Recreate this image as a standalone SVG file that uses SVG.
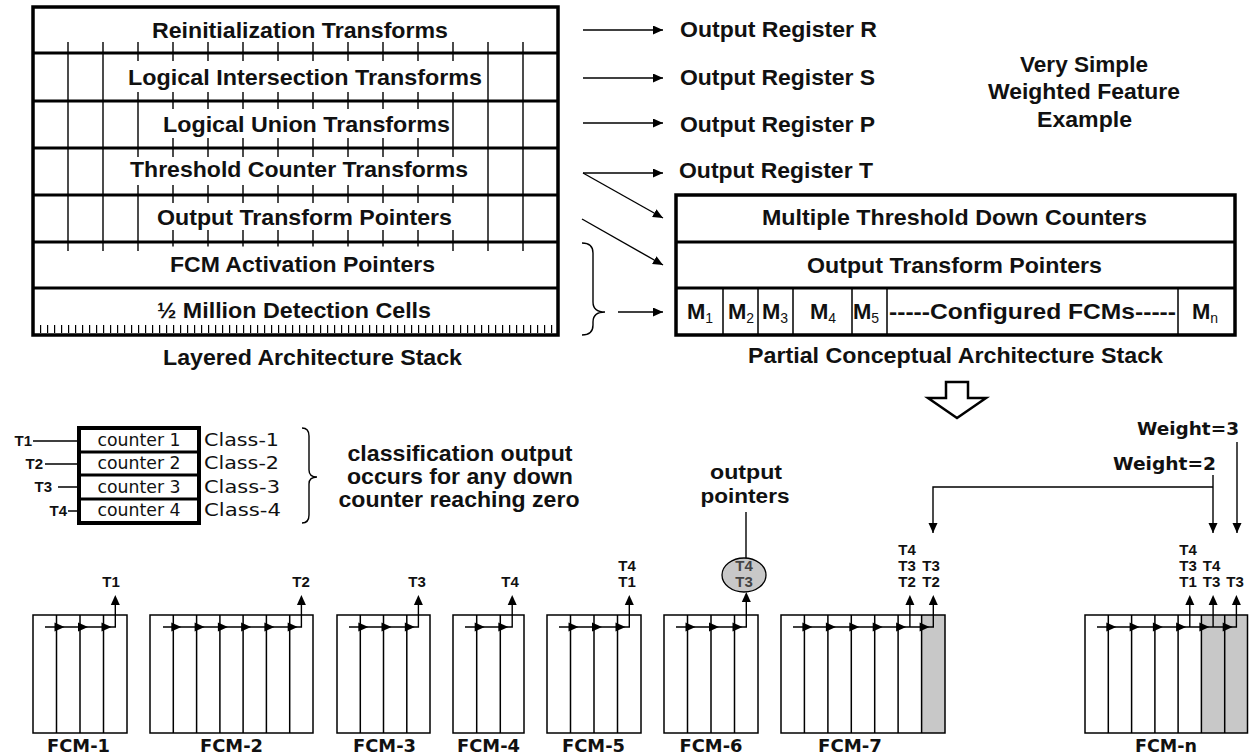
<svg xmlns="http://www.w3.org/2000/svg" xmlns:xlink="http://www.w3.org/1999/xlink" width="1249" height="755" viewBox="0 0 1249 755">
<style>
.b{font-family:"Liberation Sans",Arial,sans-serif;font-weight:bold;font-size:22px;fill:#111}
.bm{font-family:"Liberation Sans",Arial,sans-serif;font-weight:bold;font-size:22px;fill:#111;text-anchor:middle}
.sub{font-size:14px;font-weight:normal}
.t{font-family:"Liberation Sans",Arial,sans-serif;font-weight:bold;font-size:15px;fill:#111;text-anchor:middle}
.te{font-family:"Liberation Sans",Arial,sans-serif;font-weight:bold;font-size:15px;fill:#111;text-anchor:end}
.v{font-family:"DejaVu Sans",Verdana,sans-serif;font-size:17px;fill:#111}
.vm{font-family:"DejaVu Sans",Verdana,sans-serif;font-size:17px;fill:#111;text-anchor:middle}
.vb{font-family:"DejaVu Sans",Verdana,sans-serif;font-weight:bold;font-size:18px;fill:#111}
.vbm{font-family:"DejaVu Sans",Verdana,sans-serif;font-weight:bold;font-size:18px;fill:#111;text-anchor:middle}
.ln{stroke:#000;stroke-width:1.4;fill:none}
.sep{stroke:#000;stroke-width:3;fill:none}
.frame{stroke:#000;stroke-width:3.5;fill:none}
.cell{stroke:#000;stroke-width:1.5;fill:none}
.gray{fill:#c8c8c8}
.mask{fill:#fff}
.ah{fill:#000}
</style>
<defs>
<marker id="arr" markerUnits="userSpaceOnUse" markerWidth="12" markerHeight="10" refX="10" refY="4.5" orient="auto"><path d="M0,0 L10,4.5 L0,9 z" fill="#000"/></marker>
<path id="ahR" d="M-10,-4.5 L0,0 L-10,4.5 z"/>
<path id="ahU" d="M-4.5,10 L0,0 L4.5,10 z"/>
</defs>
<rect width="1249" height="755" fill="#fff"/>

<g id="layered-stack">
<path class="ln" d="M68,42V251M103,42V251M138,42V251M173,42V251M208,42V251M243,42V251M278,42V251M313,42V251M348,42V251M383,42V251M418,42V251M453,42V251M488,42V251M523,42V251"/>
<rect class="mask" x="126" y="61" width="358" height="31"/>
<rect class="mask" x="160" y="109" width="292" height="29"/>
<rect class="mask" x="127" y="157" width="343" height="28"/>
<rect class="mask" x="155" y="203" width="299" height="27"/>
<rect class="mask" x="167" y="246.5" width="271" height="40"/>
<line x1="40" y1="329" x2="556" y2="329" stroke="#000" stroke-width="8" stroke-dasharray="1.2 5.8"/>
<text class="b" x="152" y="38" textLength="296" lengthAdjust="spacingAndGlyphs">Reinitialization Transforms</text>
<text class="b" x="128" y="85" textLength="354" lengthAdjust="spacingAndGlyphs">Logical Intersection Transforms</text>
<text class="b" x="163" y="132" textLength="287" lengthAdjust="spacingAndGlyphs">Logical Union Transforms</text>
<text class="b" x="130" y="177" textLength="338" lengthAdjust="spacingAndGlyphs">Threshold Counter Transforms</text>
<text class="b" x="157" y="225" textLength="295" lengthAdjust="spacingAndGlyphs">Output Transform Pointers</text>
<text class="b" x="170" y="272" textLength="265" lengthAdjust="spacingAndGlyphs">FCM Activation Pointers</text>
<text class="b" x="157" y="318" textLength="274" lengthAdjust="spacingAndGlyphs">½ Million Detection Cells</text>
<path class="sep" d="M33,53H558M33,101H558M33,148H558M33,195H558M33,242H558M33,288H558"/>
<rect class="frame" x="33" y="7" width="525" height="328"/>
</g>
<g id="layered-label">
<text class="b" x="163" y="365" textLength="299" lengthAdjust="spacingAndGlyphs">Layered Architecture Stack</text>
</g>

<g id="registers">
<text class="b" x="680" y="37" textLength="197" lengthAdjust="spacingAndGlyphs">Output Register R</text>
<text class="b" x="680" y="85" textLength="195" lengthAdjust="spacingAndGlyphs">Output Register S</text>
<text class="b" x="680" y="132" textLength="195" lengthAdjust="spacingAndGlyphs">Output Register P</text>
<text class="b" x="679" y="178" textLength="194" lengthAdjust="spacingAndGlyphs">Output Register T</text>
</g>

<g id="title">
<text class="b" x="1020" y="72" textLength="128" lengthAdjust="spacingAndGlyphs">Very Simple</text>
<text class="b" x="988" y="99" textLength="192" lengthAdjust="spacingAndGlyphs">Weighted Feature</text>
<text class="b" x="1037" y="127" textLength="95" lengthAdjust="spacingAndGlyphs">Example</text>
</g>

<g id="conceptual-stack">
<text class="b" x="762" y="225" textLength="385" lengthAdjust="spacingAndGlyphs">Multiple Threshold Down Counters</text>
<text class="b" x="807" y="273" textLength="295" lengthAdjust="spacingAndGlyphs">Output Transform Pointers</text>
<path class="cell" d="M723,288V335M758,288V335M793,288V335M852,288V335M887,288V335M1178,288V335"/>
<text class="b" x="687" y="319">M<tspan class="sub" dy="4">1</tspan></text>
<text class="b" x="728" y="319">M<tspan class="sub" dy="4">2</tspan></text>
<text class="b" x="762" y="319">M<tspan class="sub" dy="4">3</tspan></text>
<text class="b" x="810" y="319">M<tspan class="sub" dy="4">4</tspan></text>
<text class="b" x="853" y="319">M<tspan class="sub" dy="4">5</tspan></text>
<text class="b" x="889" y="319" textLength="287" lengthAdjust="spacingAndGlyphs">-----Configured FCMs-----</text>
<text class="b" x="1192" y="319">M<tspan class="sub" dy="4">n</tspan></text>
<path class="sep" d="M676,242H1235M676,288H1235"/>
<rect class="frame" x="676" y="195" width="559" height="140"/>
</g>
<g id="conceptual-label">
<text class="b" x="748" y="363" textLength="415" lengthAdjust="spacingAndGlyphs">Partial Conceptual Architecture Stack</text>
</g>

<g id="down-arrow">
<polygon points="946,382 968,382 968,398 986,398 957,418 928,398 946,398" fill="#fff" stroke="#000" stroke-width="2.5" stroke-linejoin="miter"/>
</g>

<g id="counters">
<rect x="79" y="428" width="120" height="95" fill="#fff"/>
<text class="vm" x="139" y="446" textLength="83" lengthAdjust="spacingAndGlyphs">counter 1</text>
<text class="vm" x="139" y="469" textLength="83" lengthAdjust="spacingAndGlyphs">counter 2</text>
<text class="vm" x="139" y="493" textLength="83" lengthAdjust="spacingAndGlyphs">counter 3</text>
<text class="vm" x="139" y="516" textLength="83" lengthAdjust="spacingAndGlyphs">counter 4</text>
<path class="sep" d="M79,452H199M79,475H199M79,499H199"/>
<rect x="79" y="428" width="120" height="95" fill="none" stroke="#000" stroke-width="4"/>
<text class="v" x="204" y="446" textLength="75" lengthAdjust="spacingAndGlyphs">Class-1</text>
<text class="v" x="204" y="469" textLength="75" lengthAdjust="spacingAndGlyphs">Class-2</text>
<text class="v" x="204" y="493" textLength="76" lengthAdjust="spacingAndGlyphs">Class-3</text>
<text class="v" x="204" y="516" textLength="77" lengthAdjust="spacingAndGlyphs">Class-4</text>
<text class="te" x="32" y="446">T1</text>
<text class="te" x="43" y="469">T2</text>
<text class="te" x="52" y="492">T3</text>
<text class="te" x="67" y="516">T4</text>
</g>

<g id="classification-note">
<text class="bm" x="460" y="461" textLength="225" lengthAdjust="spacingAndGlyphs">classification output</text>
<text class="bm" x="460" y="484" textLength="226" lengthAdjust="spacingAndGlyphs">occurs for any down</text>
<text class="bm" x="459" y="507" textLength="241" lengthAdjust="spacingAndGlyphs">counter reaching zero</text>
</g>

<g id="output-pointers-note">
<text class="bm" x="746" y="479" style="font-size:20px" textLength="72" lengthAdjust="spacingAndGlyphs">output</text>
<text class="bm" x="745" y="503" style="font-size:20px" textLength="89" lengthAdjust="spacingAndGlyphs">pointers</text>
</g>

<g id="weights">
<text class="vb" x="1137" y="435" textLength="102" lengthAdjust="spacingAndGlyphs">Weight=3</text>
<text class="vb" x="1113" y="470" textLength="103" lengthAdjust="spacingAndGlyphs">Weight=2</text>
</g>

<g id="fcm-1">
<rect x="33" y="615" width="94" height="118" fill="#fff"/>
<path class="cell" d="M56.5,615V733M80,615V733M103.5,615V733"/>
<rect class="cell" x="33" y="615" width="94" height="118"/>
<path class="ln" d="M45,627H115.3V604"/>
<use href="#ahR" x="64.5" y="627"/><use href="#ahR" x="88" y="627"/><use href="#ahR" x="111.5" y="627"/>
<use href="#ahU" x="115.3" y="595"/>
<text class="t" x="111" y="587">T1</text>
<text class="vbm" x="78.5" y="752" textLength="63" lengthAdjust="spacingAndGlyphs">FCM-1</text>
</g>

<g id="fcm-2">
<rect x="150" y="615" width="163" height="118" fill="#fff"/>
<path class="cell" d="M173.3,615V733M196.6,615V733M219.9,615V733M243.1,615V733M266.4,615V733M289.7,615V733"/>
<rect class="cell" x="150" y="615" width="163" height="118"/>
<path class="ln" d="M163,627H301.4V604"/>
<use href="#ahR" x="181.3" y="627"/><use href="#ahR" x="204.6" y="627"/><use href="#ahR" x="227.9" y="627"/><use href="#ahR" x="251.1" y="627"/><use href="#ahR" x="274.4" y="627"/><use href="#ahR" x="297.7" y="627"/>
<use href="#ahU" x="301.4" y="595"/>
<text class="t" x="301" y="587">T2</text>
<text class="vbm" x="231.5" y="752" textLength="63" lengthAdjust="spacingAndGlyphs">FCM-2</text>
</g>

<g id="fcm-3">
<rect x="337" y="615" width="93" height="118" fill="#fff"/>
<path class="cell" d="M360.3,615V733M383.5,615V733M406.8,615V733"/>
<rect class="cell" x="337" y="615" width="93" height="118"/>
<path class="ln" d="M349,627H418.4V604"/>
<use href="#ahR" x="368.3" y="627"/><use href="#ahR" x="391.5" y="627"/><use href="#ahR" x="414.8" y="627"/>
<use href="#ahU" x="418.4" y="595"/>
<text class="t" x="417" y="587">T3</text>
<text class="vbm" x="384.5" y="752" textLength="63" lengthAdjust="spacingAndGlyphs">FCM-3</text>
</g>

<g id="fcm-4">
<rect x="453" y="615" width="71" height="118" fill="#fff"/>
<path class="cell" d="M476.7,615V733M500.3,615V733"/>
<rect class="cell" x="453" y="615" width="71" height="118"/>
<path class="ln" d="M465,627H512.2V604"/>
<use href="#ahR" x="484.7" y="627"/><use href="#ahR" x="508.3" y="627"/>
<use href="#ahU" x="512.2" y="595"/>
<text class="t" x="510" y="587">T4</text>
<text class="vbm" x="488.5" y="752" textLength="63" lengthAdjust="spacingAndGlyphs">FCM-4</text>
</g>

<g id="fcm-5">
<rect x="547" y="615" width="94" height="118" fill="#fff"/>
<path class="cell" d="M570.5,615V733M594,615V733M617.5,615V733"/>
<rect class="cell" x="547" y="615" width="94" height="118"/>
<path class="ln" d="M559,627H629.3V604"/>
<use href="#ahR" x="578.5" y="627"/><use href="#ahR" x="602" y="627"/><use href="#ahR" x="625.5" y="627"/>
<use href="#ahU" x="629.3" y="595"/>
<text class="t" x="627" y="571">T4</text>
<text class="t" x="627" y="587">T1</text>
<text class="vbm" x="593.5" y="752" textLength="63" lengthAdjust="spacingAndGlyphs">FCM-5</text>
</g>

<g id="fcm-6">
<rect x="664" y="615" width="94" height="118" fill="#fff"/>
<path class="cell" d="M687.5,615V733M711,615V733M734.5,615V733"/>
<rect class="cell" x="664" y="615" width="94" height="118"/>
<path class="ln" d="M676,627H746.3V602"/>
<use href="#ahR" x="695.5" y="627"/><use href="#ahR" x="719" y="627"/><use href="#ahR" x="742.5" y="627"/>
<use href="#ahU" x="746.3" y="592"/>
<ellipse cx="744" cy="575" rx="22" ry="17" fill="#c8c8c8" stroke="#000" stroke-width="1.3"/>
<text class="t" x="744" y="571" style="fill:#444">T4</text>
<text class="t" x="744" y="587" style="fill:#444">T3</text>
<text class="vbm" x="711" y="752" textLength="63" lengthAdjust="spacingAndGlyphs">FCM-6</text>
</g>

<g id="fcm-7">
<rect x="781" y="615" width="164" height="118" fill="#fff"/>
<rect class="gray" x="921.6" y="615" width="23.4" height="118"/>
<path class="cell" d="M804.4,615V733M827.9,615V733M851.3,615V733M874.7,615V733M898.1,615V733M921.6,615V733"/>
<rect class="cell" x="781" y="615" width="164" height="118"/>
<path class="ln" d="M793,627H933.3V604M909.9,627V604"/>
<use href="#ahR" x="812.4" y="627"/><use href="#ahR" x="835.9" y="627"/><use href="#ahR" x="859.3" y="627"/><use href="#ahR" x="882.7" y="627"/><use href="#ahR" x="906.1" y="627"/><use href="#ahR" x="929.6" y="627"/>
<use href="#ahU" x="909.9" y="595"/><use href="#ahU" x="933.3" y="595"/>
<text class="t" x="907" y="555">T4</text>
<text class="t" x="907" y="571">T3</text>
<text class="t" x="907" y="587">T2</text>
<text class="t" x="931" y="571">T3</text>
<text class="t" x="931" y="587">T2</text>
<text class="vbm" x="850" y="752" textLength="64" lengthAdjust="spacingAndGlyphs">FCM-7</text>
</g>

<g id="fcm-n">
<rect x="1085" y="615" width="163" height="118" fill="#fff"/>
<rect class="gray" x="1201.4" y="615" width="46.6" height="118"/>
<path class="cell" d="M1108.3,615V733M1131.6,615V733M1154.9,615V733M1178.1,615V733M1201.4,615V733M1224.7,615V733"/>
<rect class="cell" x="1085" y="615" width="162.5" height="118"/>
<path class="ln" d="M1097,627H1236.4V604M1189.8,627V604M1213.1,627V604"/>
<use href="#ahR" x="1116.3" y="627"/><use href="#ahR" x="1139.6" y="627"/><use href="#ahR" x="1162.9" y="627"/><use href="#ahR" x="1186.1" y="627"/><use href="#ahR" x="1209.4" y="627"/><use href="#ahR" x="1232.7" y="627"/>
<use href="#ahU" x="1189.8" y="595"/><use href="#ahU" x="1213.1" y="595"/><use href="#ahU" x="1236.4" y="595"/>
<text class="t" x="1188" y="555">T4</text>
<text class="t" x="1188" y="571">T3</text>
<text class="t" x="1188" y="587">T1</text>
<text class="t" x="1211.5" y="571">T4</text>
<text class="t" x="1211.5" y="587">T3</text>
<text class="t" x="1235" y="587">T3</text>
<text class="vbm" x="1166" y="752" textLength="62" lengthAdjust="spacingAndGlyphs">FCM-n</text>
</g>

<g id="connectors">
<line class="ln" x1="583" y1="30" x2="663" y2="30" marker-end="url(#arr)"/>
<line class="ln" x1="583" y1="78" x2="663" y2="78" marker-end="url(#arr)"/>
<line class="ln" x1="583" y1="123" x2="663" y2="123" marker-end="url(#arr)"/>
<line class="ln" x1="583" y1="173" x2="663" y2="173" marker-end="url(#arr)"/>
<line class="ln" x1="583" y1="173" x2="663" y2="218" marker-end="url(#arr)"/>
<line class="ln" x1="582" y1="219" x2="663" y2="265" marker-end="url(#arr)"/>
<path class="ln" d="M582,243Q593,243 593,253V302Q593,312 605,312Q593,312 593,322V325Q593,335 582,335"/>
<line class="ln" x1="618" y1="312" x2="663" y2="312" marker-end="url(#arr)"/>
<path class="ln" d="M302,428Q309,428 309,436V470Q309,477 317,477Q309,477 309,484V515Q309,523 302,523"/>
<path class="ln" d="M33,441H79M45,464H79M58,487H79M68,511H79"/>
<line class="ln" x1="746" y1="512" x2="746" y2="558"/>
<line class="ln" x1="1237" y1="442" x2="1237" y2="533" marker-end="url(#arr)"/>
<path class="ln" d="M1213,475V533" marker-end="url(#arr)"/>
<path class="ln" d="M1213,487H933V533" marker-end="url(#arr)"/>
</g>
</svg>
